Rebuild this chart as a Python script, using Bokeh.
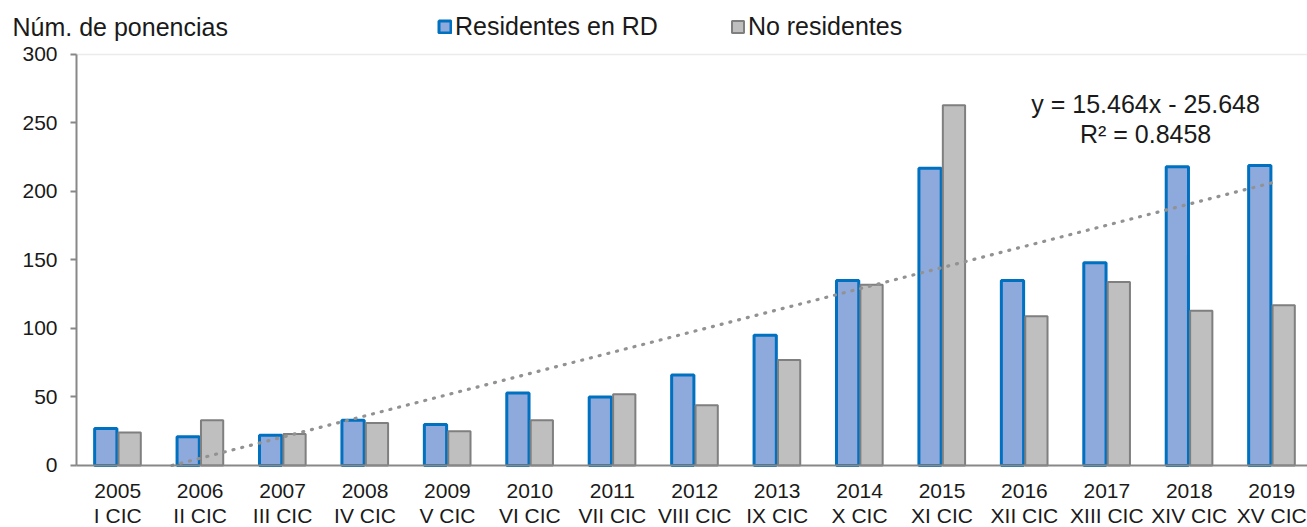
import numpy as np
from bokeh.plotting import figure
from bokeh.models import (Range1d, Label, Legend, LegendItem, FixedTicker,
                          ColumnDataSource, LinearAxis)
from bokeh.transform import dodge
from bokeh.embed import file_html
from bokeh.resources import INLINE

# ---- data ----
years = ["2005", "2006", "2007", "2008", "2009", "2010", "2011", "2012",
         "2013", "2014", "2015", "2016", "2017", "2018", "2019"]
editions = ["I CIC", "II CIC", "III CIC", "IV CIC", "V CIC", "VI CIC", "VII CIC",
            "VIII CIC", "IX CIC", "X CIC", "XI CIC", "XII CIC", "XIII CIC",
            "XIV CIC", "XV CIC"]
residentes = [27, 21, 22, 33, 30, 53, 50, 66, 95, 135, 217, 135, 148, 218, 219]
no_residentes = [24, 33, 23, 31, 25, 33, 52, 44, 77, 132, 263, 109, 134, 113, 117]
trend_slope = 15.464
trend_intercept = -25.648
r_squared = 0.8458
y_ticks = [0, 50, 100, 150, 200, 250, 300]
y_title = "Núm. de ponencias"

FONT = "Liberation Sans"
TXT = "#1a1a1a"
AXIS = "#888888"

# the frame covers the whole canvas; the plot area is x in [0.5, X_END], y in [0, 300]
X_START, X_END = -0.422, 15.434
Y_START, Y_END = -45.26, 339.4
Y_MAX = 300

xs = list(range(1, len(years) + 1))
src = ColumnDataSource(dict(x=xs, res=residentes, nores=no_residentes))

p = figure(width=1307, height=527,
           x_range=Range1d(X_START, X_END), y_range=Range1d(Y_START, Y_END),
           output_backend="svg", toolbar_location=None,
           x_axis_location=None, y_axis_location=None,
           min_border_left=0, min_border_top=0, min_border_bottom=0,
           min_border_right=0)
p.xgrid.visible = False
p.ygrid.visible = False
p.outline_line_color = None
p.background_fill_color = "white"

r_res = p.vbar(x=dodge("x", -0.145, range=p.x_range), top="res", width=0.27, source=src,
               fill_color="#8EA9DB", line_color="#0070C0", line_width=3)
r_nores = p.vbar(x=dodge("x", 0.145, range=p.x_range), top="nores", width=0.27, source=src,
                 fill_color="#BFBFBF", line_color="#7F7F7F", line_width=2)

# linear trend line (Residentes en RD) from the displayed equation, clipped at y = 0
x0 = -trend_intercept / trend_slope
tx = np.array([x0, float(xs[-1])])
ty = trend_slope * tx + trend_intercept
p.line(tx, ty, line_color="#929292", line_width=3.2, line_dash="1 8", line_cap="round")

# x axis at y = 0
xa = LinearAxis(fixed_location=0, bounds=(0.5, X_END), ticker=FixedTicker(ticks=xs))
xa.major_label_overrides = {x: f"{y}\n{e}" for x, y, e in zip(xs, years, editions)}
xa.major_tick_line_color = None
xa.minor_tick_line_color = None
xa.axis_line_color = AXIS
xa.axis_line_width = 2
xa.major_label_text_font = FONT
xa.major_label_text_font_size = "21px"
xa.major_label_text_color = TXT
xa.major_label_text_line_height = 1.05
xa.major_label_standoff = 8
p.add_layout(xa, "below")

# y axis at the left edge of the plot area
ya = LinearAxis(fixed_location=0.5, bounds=(0, Y_MAX), ticker=FixedTicker(ticks=y_ticks))
ya.minor_tick_line_color = None
ya.major_tick_in = 0
ya.major_tick_out = 6
ya.major_tick_line_color = AXIS
ya.major_tick_line_width = 2
ya.axis_line_color = AXIS
ya.axis_line_width = 2
ya.major_label_text_font = FONT
ya.major_label_text_font_size = "21px"
ya.major_label_text_color = TXT
ya.major_label_standoff = 13
p.add_layout(ya, "left")

# faint top border line at 300
top = LinearAxis(fixed_location=Y_MAX, bounds=(0.5, X_END), ticker=FixedTicker(ticks=[]))
top.axis_line_color = "#EBEBEB"
top.axis_line_width = 1.5
top.major_tick_line_color = None
top.minor_tick_line_color = None
top.major_label_text_alpha = 0
p.add_layout(top, "above")

# axis title
p.add_layout(Label(x=-0.2764, y=319.7, text=y_title, text_font=FONT,
                   text_font_size="25px", text_color=TXT, text_align="left",
                   text_baseline="middle"))

# trend equation
p.add_layout(Label(x=13.47, y=263.5, text=f"y = {trend_slope}x - {abs(trend_intercept)}",
                   text_font=FONT, text_font_size="25px", text_color=TXT,
                   text_align="center", text_baseline="middle"))
p.add_layout(Label(x=13.47, y=241.6, text=f"R² = {r_squared}",
                   text_font=FONT, text_font_size="25px", text_color=TXT,
                   text_align="center", text_baseline="middle"))

legend = Legend(items=[LegendItem(label="Residentes en RD", renderers=[r_res]),
                       LegendItem(label="No residentes", renderers=[r_nores])],
                location=(437, 486), orientation="horizontal",
                glyph_width=15, glyph_height=15, label_standoff=3, spacing=72,
                padding=0, margin=0, border_line_color=None,
                background_fill_alpha=0,
                label_text_font=FONT, label_text_font_size="25px",
                label_text_color=TXT)
p.add_layout(legend)

open("out.html", "w").write(file_html(p, INLINE))
